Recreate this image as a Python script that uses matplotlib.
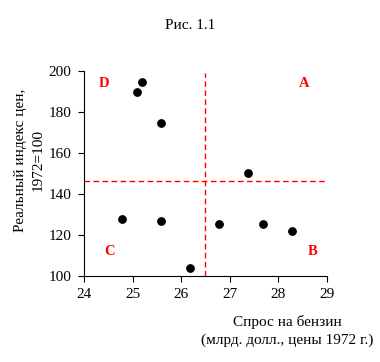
import matplotlib
matplotlib.use("Agg")
import matplotlib.pyplot as plt

plt.rcParams['font.family'] = ['Liberation Serif', 'DejaVu Serif']

# demand for gasoline (bn $, 1972 prices) vs real price index
demand = [25.09, 25.19, 25.58, 27.37, 24.78, 25.58, 26.78, 27.68, 28.28, 26.18]
price = [189.8, 194.6, 174.6, 150.2, 127.8, 126.8, 125.4, 125.4, 122.0, 103.9]

mean_demand = 26.5
mean_price = 146.3

quad_labels = ['D', 'A', 'C', 'B']
quad_x = [24.41, 28.53, 24.53, 28.71]
quad_y = [194, 194, 112, 112]

fig = plt.figure(figsize=(3.8, 3.62), dpi=100)
ax = fig.add_axes([0.221, 0.238, 0.639, 0.566])

ax.scatter(demand, price, s=28, color='black', zorder=3)
ax.plot([mean_demand, mean_demand], [100, 199], color='#ff0000', lw=1.0, ls=(0, (4, 2.5)))
ax.plot([24, 29], [mean_price, mean_price], color='#ff0000', lw=1.0, ls=(0, (4, 2.5)))

for lab, x, y in zip(quad_labels, quad_x, quad_y):
    ax.text(x, y, lab, color='red', fontsize=10.5, fontweight='bold', ha='center', va='center')

ax.set_xlim(24, 29)
ax.set_ylim(100, 200)
ax.set_xticks([24, 25, 26, 27, 28, 29])
ax.set_yticks([100, 120, 140, 160, 180, 200])
ax.spines['top'].set_visible(False)
ax.spines['right'].set_visible(False)
ax.tick_params(direction='out', length=4, labelsize=11, pad=5)

fig.text(0.078, 0.558, 'Реальный индекс цен,\n1972=100', rotation=90, ha='center', va='center',
         fontsize=11, linespacing=1.45)
fig.text(0.757, 0.085, 'Спрос на бензин\n(млрд. долл., цены 1972 г.)', ha='center', va='center',
         fontsize=11, linespacing=1.45)
fig.text(0.5, 0.93, 'Рис. 1.1', ha='center', va='center', fontsize=11)

fig.savefig('out.png', dpi=100, facecolor='white')
